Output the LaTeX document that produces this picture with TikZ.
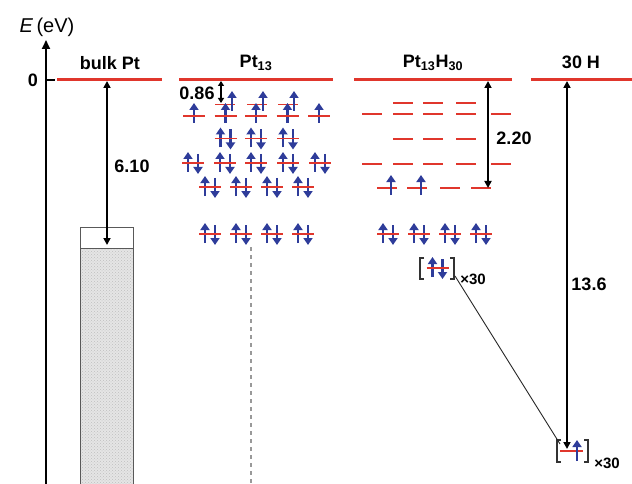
\documentclass[tikz,border=0pt]{standalone}
\usepackage{fontspec}
\setmainfont{Liberation Sans}
\usetikzlibrary{arrows.meta,patterns}
\definecolor{lvred}{HTML}{E0362C}
\definecolor{eblue}{HTML}{2E3C9A}
\begin{document}
\begin{tikzpicture}[x=1pt,y=-1pt,
  lvl/.style={draw=lvred,line width=1.5pt},
  zeroline/.style={draw=lvred,line width=3pt},
  eup/.style={draw=eblue,line width=2.7pt,-{Triangle[width=9pt,length=7pt]}},
  dimarrow/.style={draw=black,line width=1.7pt,{Triangle[width=7pt,length=7pt]}-{Triangle[width=7pt,length=7pt]}},
  lbl/.style={font=\fontsize{18}{20}\selectfont\bfseries,inner sep=0pt},
  small/.style={font=\fontsize{15}{17}\selectfont\bfseries,inner sep=0pt},
  brk/.style={draw=black!80,line width=1.2pt},
  pairlev/.pic={\draw[eup] (-5,9)--(-5,-11); \draw[eup] (5,-9)--(5,11); \draw[lvl] (-11,0)--(11,0);},
  singlev/.pic={\draw[eup] (0,7)--(0,-13); \draw[lvl] (-11,0)--(11,0);},
]
\useasboundingbox (0,0) rectangle (632,484);
% axis
\coordinate (axb) at (46,484);
\coordinate (axt) at (46,40);
\draw[line width=1.8pt,-{Triangle[width=8pt,length=9pt]}] (axb) -- (axt);
\node[font=\fontsize{20}{22}\selectfont,inner sep=0pt] (elab) at (47,27) {\textit{E}\,(eV)};
\coordinate (tk0) at (46,80);
\coordinate (tk1) at (55,80);
\draw[line width=1.5pt] (tk0) -- (tk1);
\node[lbl,anchor=east] (zero) at (38,80) {0};
% titles
\node[lbl] (tbulk) at (110,63) {bulk Pt};
\node[lbl] (tpt) at (256,63) {Pt\textsubscript{13}};
\node[lbl] (tpth) at (433,63) {Pt\textsubscript{13}H\textsubscript{30}};
\node[lbl] (th) at (581,62) {30 H};
% zero lines
\draw[zeroline] (57,80) -- (162,80);
\draw[zeroline] (179,80) -- (333,80);
\draw[zeroline] (354,80) -- (512,80);
\draw[zeroline] (531,80) -- (632,80);
% bulk Pt box
\fill[gray!20] (80,248) rectangle (133,484);
\fill[pattern=crosshatch dots,pattern color=gray!50] (80,248) rectangle (133,484);
\draw[gray!70!black,line width=0.9pt] (80,484) -- (80,227) -- (133,227) -- (133,484);
\draw[gray!70!black,line width=0.9pt] (80,248) -- (133,248);
% bulk dimension
\coordinate (b0) at (107,81);
\coordinate (b1) at (107,245);
\draw[dimarrow] (b0) -- (b1);
\node[lbl] (v610) at (132,166) {6.10};
% Pt13 levels
\foreach \x in {225,257,288} \draw[lvl] (\x-10,104.5) -- (\x+10,104.5);
\foreach \x in {232,263,294} \draw[eup] (\x,111) -- (\x,91);
\foreach \x in {194,225.5,256,287.5,319} \pic at (\x,116) {singlev};
\foreach \x in {225.5,256,288} \pic at (\x,138.5) {pairlev};
\foreach \x in {193,225,256,288,320} \pic at (\x,163) {pairlev};
\foreach \x in {210,241,272,303} \pic at (\x,187) {pairlev};
\foreach \x in {210,241,272,303} \pic at (\x,234) {pairlev};
\coordinate (p0) at (221,81);
\coordinate (p1) at (221,103);
\draw[draw=black,line width=1.6pt,{Triangle[width=6pt,length=5pt]}-{Triangle[width=6pt,length=5pt]}] (p0) -- (p1);
\node[lbl] (v086) at (197,93) {0.86};
\coordinate (d0) at (251,247);
\coordinate (d1) at (251,484);
\draw[gray!80,line width=1.2pt,dash pattern=on 4pt off 4pt] (d0) -- (d1);
% Pt13H30 levels
\foreach \y in {103,139} \foreach \x in {403,433,466} \draw[lvl] (\x-10,\y) -- (\x+10,\y);
\foreach \y in {114,164} \foreach \x in {372,403,433,466,501} \draw[lvl] (\x-10,\y) -- (\x+10,\y);
\foreach \x in {387,417,450,481} \draw[lvl] (\x-10,188) -- (\x+10,188);
\foreach \x in {391,421} \draw[eup] (\x,195) -- (\x,175);
\foreach \x in {388,419,450,481} \pic at (\x,234) {pairlev};
\coordinate (h0) at (488,81);
\coordinate (h1) at (488,188);
\draw[dimarrow] (h0) -- (h1);
\node[lbl] (v220) at (514,138) {2.20};
% bracket Pt13H30 x30
\draw[brk] (424,258) -- (420,258) -- (420,279) -- (424,279);
\draw[brk] (450,258) -- (454,258) -- (454,279) -- (450,279);
\pic at (437.5,268) {pairlev};
\node[small] (x30a) at (473,279) {×30};
% 30 H
\coordinate (s0) at (567,81);
\coordinate (s1) at (567,449);
\draw[dimarrow] (s0) -- (s1);
\node[lbl] (v136) at (589,284) {13.6};
\draw[brk] (561,440) -- (557,440) -- (557,462) -- (561,462);
\draw[brk] (584,440) -- (588,440) -- (588,462) -- (584,462);
\draw[lvl] (560,451) -- (583,451);
\draw[eup] (577,461) -- (577,440);
\node[small] (x30b) at (607,463) {×30};
% connector
\coordinate (c1) at (455,276);
\coordinate (c2) at (560,444);
\draw[black!85,line width=0.9pt] (c1) -- (c2);
\end{tikzpicture}
\end{document}
